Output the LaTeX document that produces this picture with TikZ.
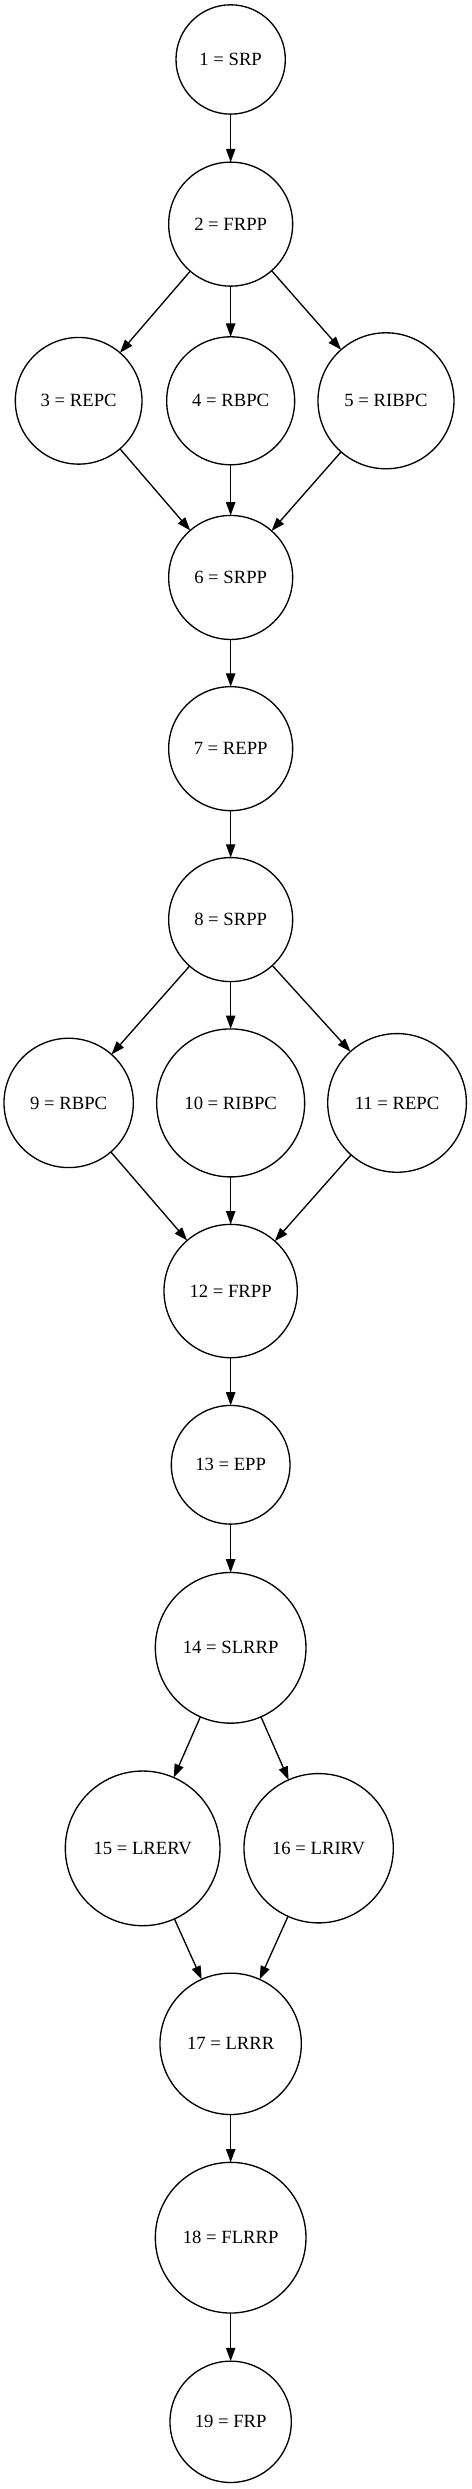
\documentclass[tikz,border=0pt]{standalone}
\usepackage{fontspec}
\setmainfont{Liberation Serif}
\usepackage{tikz}
\usetikzlibrary{arrows.meta, positioning}

\begin{document}
\begin{tikzpicture}[
    phase/.style={circle, draw=black, line width=1pt, inner sep=0pt, outer sep=0pt,
                  font=\fontsize{14}{16}\selectfont},
    arr/.style={-{Triangle[length=10pt, width=7pt]}, line width=1pt, black}
]
\useasboundingbox (-173pt,44.6pt) rectangle (181pt,-1822.2pt);
\node[phase, minimum size=82pt] (srp1) {1 = SRP};
\node[phase, minimum size=93pt, below=36pt of srp1] (frpp2) {2 = FRPP};
\node[phase, minimum size=96pt, below=38pt of frpp2] (rbpc4) {4 = RBPC};
\node[phase, minimum size=95pt, left=18.5pt of rbpc4] (repc3) {3 = REPC};
\node[phase, minimum size=102pt, right=17.5pt of rbpc4] (ribpc5) {5 = RIBPC};
\node[phase, minimum size=93pt, below=38pt of rbpc4] (srpp6) {6 = SRPP};
\node[phase, minimum size=93pt, below=35.4pt of srpp6] (repp7) {7 = REPP};
\node[phase, minimum size=93pt, below=35.2pt of repp7] (srpp8) {8 = SRPP};
\node[phase, minimum size=111pt, below=35.5pt of srpp8] (ribpc10) {10 = RIBPC};
\node[phase, minimum size=97pt, left=17.5pt of ribpc10] (rbpc9) {9 = RBPC};
\node[phase, minimum size=104pt, right=17.3pt of ribpc10] (repc11) {11 = REPC};
\node[phase, minimum size=100pt, below=35.6pt of ribpc10] (frpp12) {12 = FRPP};
\node[phase, minimum size=89pt, below=35.8pt of frpp12] (epp13) {13 = EPP};
\node[phase, minimum size=113pt, below=36.3pt of epp13] (slrrp14) {14 = SLRRP};
\node[phase, minimum size=116pt, below=35.9pt of slrrp14, xshift=-66pt] (lrerv15) {15 = LRERV};
\node[phase, minimum size=112pt, below=37.8pt of slrrp14, xshift=66pt] (lrirv16) {16 = LRIRV};
\node[phase, minimum size=106pt, below=35.6pt of lrerv15, xshift=66pt] (lrrr17) {17 = LRRR};
\node[phase, minimum size=113pt, below=35.9pt of lrrr17] (flrrp18) {18 = FLRRP};
\node[phase, minimum size=91pt, below=36.1pt of flrrp18] (frp19) {19 = FRP};
\draw[arr] (srp1) -- (frpp2);
\draw[arr] (frpp2) -- (repc3);
\draw[arr] (frpp2) -- (rbpc4);
\draw[arr] (frpp2) -- (ribpc5);
\draw[arr] (repc3) -- (srpp6);
\draw[arr] (rbpc4) -- (srpp6);
\draw[arr] (ribpc5) -- (srpp6);
\draw[arr] (srpp6) -- (repp7);
\draw[arr] (repp7) -- (srpp8);
\draw[arr] (srpp8) -- (rbpc9);
\draw[arr] (srpp8) -- (ribpc10);
\draw[arr] (srpp8) -- (repc11);
\draw[arr] (rbpc9) -- (frpp12);
\draw[arr] (ribpc10) -- (frpp12);
\draw[arr] (repc11) -- (frpp12);
\draw[arr] (frpp12) -- (epp13);
\draw[arr] (epp13) -- (slrrp14);
\draw[arr] (slrrp14) -- (lrerv15);
\draw[arr] (slrrp14) -- (lrirv16);
\draw[arr] (lrerv15) -- (lrrr17);
\draw[arr] (lrirv16) -- (lrrr17);
\draw[arr] (lrrr17) -- (flrrp18);
\draw[arr] (flrrp18) -- (frp19);
\end{tikzpicture}
\end{document}
